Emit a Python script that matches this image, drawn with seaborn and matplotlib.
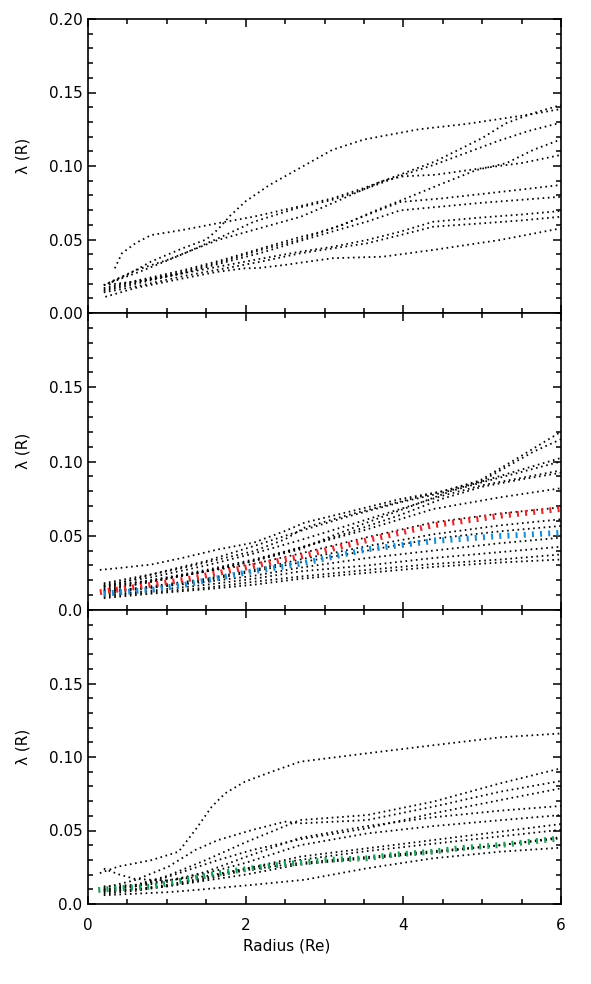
import matplotlib
matplotlib.use("Agg")
import matplotlib.pyplot as plt
from matplotlib.ticker import MultipleLocator, FixedLocator, FixedFormatter
import seaborn as sns

# ------------------------------------------------
# Data
# ------------------------------------------------

# top panel: black dotted profiles
top_x = [
    [0.25, 0.5, 0.8, 1.2, 1.5, 1.65, 1.8, 2.0, 2.3, 2.7, 3.1, 3.5, 4.2, 4.8, 5.3, 5.6, 6.0],
    [0.34, 0.43, 0.6, 0.8, 1.2, 1.65, 2.1, 2.66, 3.1, 3.5, 3.75, 4.0, 4.4, 5.0, 5.5, 6.0],
    [0.2, 0.6, 1.0, 1.65, 2.2, 2.7, 3.2, 3.7, 4.1, 4.4, 4.7, 5.0, 5.3, 5.65, 6.0],
    [0.3, 0.7, 1.2, 1.7, 2.1, 2.66, 3.1, 3.5, 4.0, 4.4, 4.8, 5.2, 5.6, 6.0],
    [0.2, 0.7, 1.2, 1.7, 2.2, 2.69, 2.9, 3.23, 3.66, 4.08, 4.51, 4.93, 5.31, 5.65, 6.0],
    [0.2, 0.7, 1.2, 1.7, 2.2, 2.69, 3.11, 3.54, 3.96, 4.5, 5.0, 5.5, 6.0],
    [0.2, 0.7, 1.2, 1.7, 2.2, 2.69, 3.11, 3.54, 3.96, 4.5, 5.0, 5.5, 6.0],
    [0.2, 0.7, 1.2, 1.7, 2.2, 2.69, 3.11, 3.54, 3.96, 4.38, 5.0, 5.5, 6.0],
    [0.2, 0.7, 1.2, 1.7, 2.2, 2.69, 3.11, 3.54, 3.96, 4.38, 5.0, 5.5, 6.0],
    [0.22, 0.6, 1.23, 1.65, 1.99, 2.16, 2.5, 2.69, 3.11, 3.74, 4.38, 5.23, 6.0],
]
top_y = [
    [0.020, 0.026, 0.035, 0.044, 0.050, 0.057, 0.066, 0.076, 0.087, 0.099, 0.111, 0.118, 0.125, 0.1286, 0.1326, 0.135, 0.1388],
    [0.0304, 0.0406, 0.0474, 0.053, 0.0565, 0.0611, 0.0655, 0.0723, 0.078, 0.085, 0.090, 0.093, 0.094, 0.0985, 0.102, 0.1075],
    [0.019, 0.029, 0.036, 0.0497, 0.058, 0.0655, 0.077, 0.089, 0.097, 0.103, 0.111, 0.119, 0.129, 0.136, 0.1415],
    [0.021, 0.029, 0.040, 0.052, 0.062, 0.0715, 0.077, 0.084, 0.094, 0.101, 0.109, 0.117, 0.124, 0.1295],
    [0.017, 0.023, 0.029, 0.036, 0.044, 0.0517, 0.0544, 0.0599, 0.070, 0.079, 0.0884, 0.0973, 0.102, 0.111, 0.1181],
    [0.016, 0.022, 0.028, 0.035, 0.043, 0.050, 0.0578, 0.0667, 0.0755, 0.078, 0.081, 0.084, 0.0871],
    [0.015, 0.021, 0.027, 0.034, 0.041, 0.049, 0.0556, 0.0622, 0.0698, 0.0725, 0.075, 0.077, 0.0791],
    [0.019, 0.022, 0.027, 0.032, 0.037, 0.0417, 0.0451, 0.0497, 0.0553, 0.0621, 0.065, 0.067, 0.0694],
    [0.014, 0.019, 0.025, 0.030, 0.035, 0.0406, 0.0440, 0.0474, 0.053, 0.0587, 0.061, 0.063, 0.0655],
    [0.011, 0.017, 0.0238, 0.0281, 0.0304, 0.0306, 0.0327, 0.0342, 0.0373, 0.0383, 0.0429, 0.0497, 0.0576],
]

# middle panel: black dotted profiles
mid_grid = [0.2, 0.8, 1.5, 2.1, 2.69, 3.54, 4.38, 5.23, 6.0]
mid_x = [
    [0.15, 0.4, 0.8, 1.2, 1.65, 2.1, 2.5, 2.75, 3.3, 3.96, 4.5, 4.97, 5.44, 6.0],
    [0.2, 0.4, 0.8, 1.2, 1.65, 2.1, 2.5, 2.75, 3.3, 3.96, 4.5, 5.0, 5.23, 5.65, 6.0],
    [0.2, 0.8, 1.5, 2.1, 2.69, 3.3, 3.96, 4.5, 4.9, 5.4, 6.0],
    [0.2, 0.8, 1.5, 2.1, 2.69, 3.1, 3.54, 4.17, 4.6, 5.0, 5.5, 6.0],
    [0.2, 0.8, 1.5, 2.1, 2.69, 3.3, 3.96, 4.5, 5.0, 5.5, 6.0],
    [0.2, 0.8, 1.5, 2.1, 2.69, 3.3, 3.96, 4.5, 5.0, 5.5, 6.0],
    mid_grid, mid_grid, mid_grid, mid_grid, mid_grid, mid_grid, mid_grid, mid_grid,
]
mid_y = [
    [0.027, 0.0283, 0.0306, 0.0351, 0.0408, 0.0453, 0.0532, 0.0589, 0.066, 0.0747, 0.080, 0.0872, 0.102, 0.120],
    [0.016, 0.0181, 0.0238, 0.0283, 0.034, 0.0396, 0.0476, 0.0555, 0.064, 0.073, 0.080, 0.087, 0.094, 0.1066, 0.115],
    [0.018, 0.024, 0.033, 0.043, 0.0532, 0.063, 0.0725, 0.079, 0.085, 0.093, 0.1024],
    [0.014, 0.019, 0.026, 0.033, 0.0408, 0.050, 0.0589, 0.0713, 0.080, 0.086, 0.093, 0.100],
    [0.017, 0.022, 0.030, 0.038, 0.047, 0.057, 0.068, 0.077, 0.084, 0.089, 0.094],
    [0.015, 0.020, 0.027, 0.034, 0.042, 0.052, 0.064, 0.075, 0.083, 0.088, 0.0924],
    [0.013, 0.019, 0.026, 0.033, 0.0419, 0.0543, 0.068, 0.0759, 0.082],
    [0.016, 0.020, 0.026, 0.031, 0.038, 0.049, 0.059, 0.065, 0.0691],
    [0.012, 0.016, 0.021, 0.027, 0.034, 0.043, 0.051, 0.057, 0.0611],
    [0.011, 0.015, 0.020, 0.026, 0.032, 0.040, 0.048, 0.053, 0.0566],
    [0.013, 0.015, 0.019, 0.023, 0.0285, 0.035, 0.040, 0.045, 0.0487],
    [0.010, 0.013, 0.017, 0.021, 0.026, 0.030, 0.035, 0.039, 0.0426],
    [0.009, 0.012, 0.015, 0.019, 0.0225, 0.027, 0.031, 0.034, 0.0374],
    [0.008, 0.011, 0.014, 0.017, 0.021, 0.025, 0.029, 0.032, 0.034],
]

# middle panel: coloured mean profiles
red_x = [0.15, 0.81, 1.23, 1.65, 2.08, 2.5, 2.71, 3.54, 4.38, 5.23, 6.0]
red_y = [0.012, 0.017, 0.0204, 0.0249, 0.0294, 0.034, 0.0362, 0.047, 0.057, 0.0634, 0.068]
blue_x = [0.2, 0.81, 1.23, 1.65, 2.08, 2.5, 2.75, 3.54, 4.38, 5.23, 6.0]
blue_y = [0.011, 0.0136, 0.017, 0.0215, 0.026, 0.0294, 0.0317, 0.0408, 0.0464, 0.0498, 0.052]

# bottom panel: black dotted profiles
bot_grid = [0.2, 0.6, 1.0, 1.5, 2.0, 2.69, 3.54, 4.38, 5.23, 6.0]
bot_x = [
    [0.15, 0.38, 0.81, 1.15, 1.36, 1.57, 1.74, 1.99, 2.33, 2.69, 3.54, 4.38, 5.23, 6.0],
    [0.2, 0.6, 1.02, 1.36, 1.65, 2.08, 2.5, 2.71, 3.54, 4.38, 5.23, 6.0],
    [0.2, 0.6, 1.0, 1.5, 2.0, 2.5, 2.69, 3.54, 4.38, 5.23, 6.0],
    [0.2, 0.6, 1.02, 1.65, 2.08, 2.69, 3.54, 4.38, 5.23, 6.0],
    bot_grid, bot_grid, bot_grid, bot_grid, bot_grid,
    [0.2, 0.6, 1.0, 1.36, 2.08, 2.75, 3.54, 4.38, 5.23, 6.0],
    [0.2, 0.4, 0.6, 1.0, 1.5, 2.0, 2.69, 3.54, 4.38, 5.23, 6.0],
]
bot_y = [
    [0.021, 0.0254, 0.0299, 0.0356, 0.0503, 0.0662, 0.0753, 0.0832, 0.09, 0.0968, 0.1025, 0.108, 0.1134, 0.116],
    [0.011, 0.0163, 0.0254, 0.0367, 0.0435, 0.0503, 0.056, 0.0549, 0.0571, 0.0662, 0.0764, 0.0837],
    [0.010, 0.013, 0.019, 0.030, 0.042, 0.053, 0.0571, 0.0605, 0.0696, 0.0821, 0.0923],
    [0.009, 0.012, 0.0186, 0.0299, 0.0367, 0.0440, 0.0515, 0.0617, 0.0707, 0.0787],
    [0.010, 0.012, 0.015, 0.022, 0.032, 0.045, 0.053, 0.059, 0.0635, 0.0667],
    [0.012, 0.013, 0.016, 0.021, 0.028, 0.040, 0.048, 0.053, 0.057, 0.0605],
    [0.008, 0.010, 0.013, 0.018, 0.024, 0.0322, 0.0379, 0.0435, 0.0492, 0.0544],
    [0.009, 0.010, 0.012, 0.017, 0.023, 0.028, 0.032, 0.036, 0.040, 0.0447],
    [0.007, 0.009, 0.012, 0.016, 0.020, 0.027, 0.031, 0.035, 0.040, 0.0455],
    [0.006, 0.007, 0.008, 0.0095, 0.013, 0.0165, 0.0243, 0.0311, 0.0356, 0.0383],
    [0.024, 0.020, 0.017, 0.016, 0.019, 0.024, 0.030, 0.036, 0.041, 0.046, 0.0505],
]

# bottom panel: coloured mean profile
green_x = [0.13, 0.38, 0.81, 1.23, 1.65, 2.08, 2.5, 2.75, 3.03, 3.54, 3.87, 4.38, 4.72, 5.23, 6.0]
green_y = [0.0095, 0.0107, 0.0118, 0.0163, 0.0209, 0.0243, 0.0272, 0.0282, 0.030, 0.0311, 0.0335, 0.0356, 0.038, 0.0401, 0.0447]

# axis ticks and labels
x_ticks = [0, 2, 4, 6]
x_ticklabels = ["0", "2", "4", "6"]
top_yticks = [0.0, 0.05, 0.10, 0.15, 0.20]
top_yticklabels = ["0.00", "0.05", "0.10", "0.15", "0.20"]
low_yticks = [0.0, 0.05, 0.10, 0.15]
low_yticklabels = ["0.0", "0.05", "0.10", "0.15"]

# ------------------------------------------------
# Style
# ------------------------------------------------

sns.set_style("ticks")
plt.rcParams["font.family"] = ["DejaVu Sans"]
plt.rcParams["font.size"] = 11
plt.rcParams["text.color"] = "black"
plt.rcParams["axes.labelcolor"] = "black"
plt.rcParams["xtick.color"] = "black"
plt.rcParams["ytick.color"] = "black"

DOT = (0, (0.9, 2.0))
THICK_DOT = (0, (0.35, 1.05))

fig = plt.figure(figsize=(5.91, 9.84), dpi=100)

W, H = 591.0, 984.0
left, right = 88 / W, 561 / W
panels = [(19, 313), (313, 610), (610, 904)]
axes = []
for top, bot in panels:
    axes.append(fig.add_axes([left, 1 - bot / H, right - left, (bot - top) / H]))


def draw_black(ax, xs, ys):
    for x, y in zip(xs, ys):
        sns.lineplot(x=x, y=y, ax=ax, color="black", lw=1.3,
                     linestyle=DOT, sort=False, estimator=None)


def draw_thick(ax, x, y, color):
    sns.lineplot(x=x, y=y, ax=ax, color=color, lw=4.2,
                 linestyle=THICK_DOT, sort=False, estimator=None)


draw_black(axes[0], top_x, top_y)

draw_black(axes[1], mid_x, mid_y)
draw_thick(axes[1], red_x, red_y, "#ec2327")
draw_thick(axes[1], blue_x, blue_y, "#1b8fd6")

draw_black(axes[2], bot_x, bot_y)
draw_thick(axes[2], green_x, green_y, "#1d9f55")

# ------------------------------------------------
# Axes cosmetics
# ------------------------------------------------

for i, ax in enumerate(axes):
    ax.set_xlim(0, 6)
    ax.set_ylim(0, 0.2)
    for sp in ax.spines.values():
        sp.set_visible(True)
        sp.set_linewidth(1.2)
        sp.set_color("black")

    ax.xaxis.set_major_locator(FixedLocator(x_ticks))
    ax.xaxis.set_minor_locator(MultipleLocator(0.5))
    ax.yaxis.set_minor_locator(MultipleLocator(0.01))
    if i == 0:
        ax.yaxis.set_major_locator(FixedLocator(top_yticks))
        ax.yaxis.set_major_formatter(FixedFormatter(top_yticklabels))
    else:
        ax.yaxis.set_major_locator(FixedLocator(low_yticks))
        ax.yaxis.set_major_formatter(FixedFormatter(low_yticklabels))

    ax.tick_params(which="both", direction="in", top=True, right=True,
                   width=1.1, colors="black", labelsize=11)
    ax.tick_params(which="major", length=5.5)
    ax.tick_params(which="minor", length=3.5)
    ax.tick_params(axis="y", pad=4)
    ax.tick_params(axis="x", pad=10)

    if i < 2:
        ax.set_xticklabels([])
    else:
        ax.xaxis.set_major_formatter(FixedFormatter(x_ticklabels))
        ax.set_xlabel("Radius (Re)", fontsize=11, color="black")
        ax.xaxis.set_label_coords(0.42, -0.118)

    ax.set_ylabel("λ (R)", fontsize=11, color="black")
    ax.yaxis.set_label_coords(-0.122, 0.535)

fig.savefig("out.png", dpi=100)
